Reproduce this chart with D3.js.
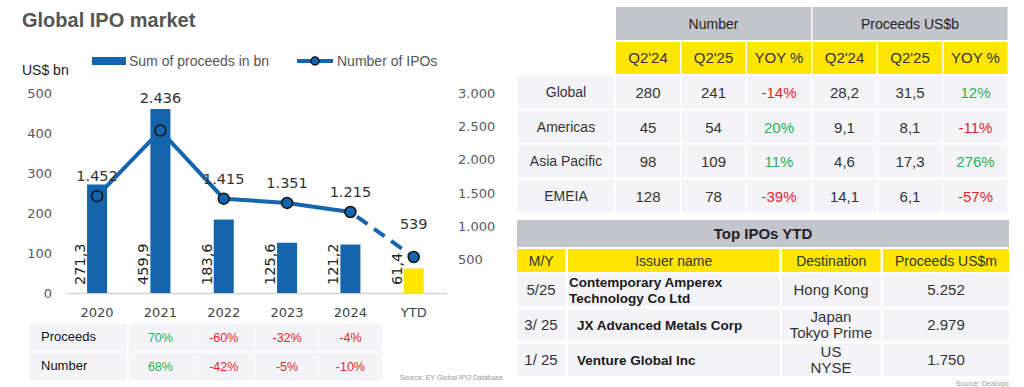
<!DOCTYPE html>
<html>
<head>
<meta charset="utf-8">
<script src="https://cdn.jsdelivr.net/npm/d3@7"></script>
<style>
    body { margin: 0; background: #fff; }
    svg { display: block; }
</style>
</head>
<body>
<div id="chart"></div>
<script>
// chart data
const years = ['2020', '2021', '2022', '2023', '2024', 'YTD'];
const proceeds = [271.3, 459.9, 183.6, 125.6, 121.2, 61.4];
const ipoCount = [1452, 2436, 1415, 1351, 1215, 539];
const leftTicks = [0, 100, 200, 300, 400, 500];
const rightTicks = [500, 1000, 1500, 2000, 2500, 3000];

// yoy table under the chart
const yoyYears = ['2021', '2022', '2023', '2024'];
const yoyProceeds = [70, -60, -32, -4];
const yoyNumber = [68, -42, -5, -10];

// regional table
const regions = ['Global', 'Americas', 'Asia Pacific', 'EMEIA'];
const quarterCols = ["Q2'24", "Q2'25", 'YOY %'];
const numQ224 = [280, 45, 98, 128];
const numQ225 = [241, 54, 109, 78];
const numYoy = [-14, 20, 11, -39];
const procQ224 = [28.2, 9.1, 4.6, 14.1];
const procQ225 = [31.5, 8.1, 17.3, 6.1];
const procYoy = [12, -11, 276, -57];

// top IPOs
const topCols = ['M/Y', 'Issuer name', 'Destination', 'Proceeds US$m'];
const topDates = ['5/25', '3/ 25', '1/ 25'];
const topIssuers = [['Contemporary Amperex', 'Technology Co Ltd'], ['JX Advanced Metals Corp'], ['Venture Global Inc']];
const topDest = [['Hong Kong'], ['Japan', 'Tokyo Prime'], ['US', 'NYSE']];
const topProceeds = [5252, 2979, 1750];

const BLUE = '#1565ac', YELLOW = '#ffe600', GREY = '#c4c4cd', CELL = '#f4f4f8';
const GREEN = '#27b257', RED = '#e3262b';
const TXT = "'Liberation Sans', Arial, sans-serif";
const NUM = "'DejaVu Sans', Verdana, sans-serif";

const loc = d3.formatLocale({ decimal: ',', thousands: '.', grouping: [3], currency: ['', ''] });
const fmtInt = loc.format(',d');
const fmt1 = loc.format(',.1f');
const pct = v => v + '%';

const width = 1024, height = 387;
const svg = d3.select('#chart').append('svg')
    .attr('width', width)
    .attr('height', height);

// ---------- left: combo chart ----------
svg.append('text')
    .attr('x', 22).attr('y', 27)
    .attr('font-family', TXT).attr('font-weight', 'bold')
    .attr('font-size', 20).attr('fill', '#555')
    .text('Global IPO market');

svg.append('text')
    .attr('x', 22).attr('y', 75)
    .attr('font-family', TXT).attr('font-size', 14).attr('fill', '#222')
    .text('US$ bn');

// legend
const legend = svg.append('g').attr('font-family', TXT).attr('font-size', 14).attr('fill', '#555');
legend.append('rect').attr('x', 92).attr('y', 57).attr('width', 34).attr('height', 8).attr('fill', BLUE);
legend.append('text').attr('x', 129).attr('y', 66).text('Sum of proceeds in bn');
legend.append('line').attr('x1', 297).attr('x2', 333).attr('y1', 61).attr('y2', 61)
    .attr('stroke', BLUE).attr('stroke-width', 4);
legend.append('circle').attr('cx', 315).attr('cy', 61).attr('r', 4)
    .attr('fill', BLUE).attr('stroke', '#111').attr('stroke-width', 1.5);
legend.append('text').attr('x', 337).attr('y', 66).text('Number of IPOs');

const x = d3.scaleBand()
    .domain(years)
    .range([65.4, 445.4])
    .paddingInner(0.684)
    .paddingOuter(0.342);
const cx = d => x(d) + x.bandwidth() / 2;

const yL = d3.scaleLinear().domain([0, 500]).range([293, 93]);
const yR = d3.scaleLinear().domain([0, 3000]).range([293, 93]);

const leftAxis = svg.append('g')
    .attr('transform', 'translate(52,0)')
    .call(d3.axisLeft(yL).tickValues(leftTicks).tickSize(0).tickPadding(0));
const rightAxis = svg.append('g')
    .attr('transform', 'translate(458,0)')
    .call(d3.axisRight(yR).tickValues(rightTicks).tickSize(0).tickPadding(0)
        .tickFormat(fmtInt));
[leftAxis, rightAxis].forEach(a => {
    a.select('.domain').remove();
    a.selectAll('text').attr('font-family', NUM).attr('font-size', 13).attr('fill', '#595959');
});

// baseline
svg.append('line')
    .attr('x1', 67).attr('x2', 447).attr('y1', 293.5).attr('y2', 293.5)
    .attr('stroke', '#d4d4d4').attr('stroke-width', 1.5);

// year labels
svg.append('g').selectAll('text')
    .data(years)
    .enter().append('text')
    .attr('x', d => cx(d)).attr('y', 317)
    .attr('text-anchor', 'middle')
    .attr('font-family', NUM).attr('font-size', 13).attr('fill', '#444')
    .text(d => d);

// bars
svg.append('g').selectAll('rect')
    .data(proceeds)
    .enter().append('rect')
    .attr('x', (d, i) => x(years[i]))
    .attr('y', d => yL(d))
    .attr('width', x.bandwidth())
    .attr('height', d => yL(0) - yL(d))
    .attr('fill', (d, i) => i === years.length - 1 ? YELLOW : BLUE);

// rotated bar values
svg.append('g').selectAll('text')
    .data(proceeds)
    .enter().append('text')
    .attr('transform', (d, i) => `translate(${cx(years[i]) - 12},285) rotate(-90)`)
    .attr('font-family', NUM).attr('font-size', 14.5).attr('fill', '#222')
    .text(d => fmt1(d));

// line (solid part + dashed YTD part)
const pts = ipoCount.map((v, i) => [cx(years[i]), yR(v)]);
const line = d3.line();
const last = pts.length - 1;
svg.append('path')
    .attr('d', line(pts.slice(0, last)))
    .attr('fill', 'none').attr('stroke', BLUE).attr('stroke-width', 4)
    .attr('stroke-linejoin', 'round');
const a = pts[last - 1], b = pts[last];
const len = Math.hypot(b[0] - a[0], b[1] - a[1]);
const ux = (b[0] - a[0]) / len, uy = (b[1] - a[1]) / len;
svg.append('path')
    .attr('d', line([[a[0] + ux * 8, a[1] + uy * 8], [b[0] - ux * 6, b[1] - uy * 6]]))
    .attr('fill', 'none').attr('stroke', BLUE).attr('stroke-width', 4)
    .attr('stroke-dasharray', '13,8');

svg.append('g').selectAll('circle')
    .data(pts)
    .enter().append('circle')
    .attr('cx', d => d[0]).attr('cy', d => d[1]).attr('r', 5.5)
    .attr('fill', BLUE).attr('stroke', '#111').attr('stroke-width', 1.5);

// count labels; 2021 and YTD sit higher (bar / dashed line in the way)
const lift = i => (i === 1 || i === last) ? 28 : 15;
svg.append('g').selectAll('text')
    .data(ipoCount)
    .enter().append('text')
    .attr('x', (d, i) => cx(years[i]))
    .attr('y', (d, i) => yR(d) - lift(i))
    .attr('text-anchor', 'middle')
    .attr('font-family', NUM).attr('font-size', 14.5).attr('fill', '#333')
    .text(d => fmtInt(d));

// yoy table
const yoyRows = [['Proceeds', yoyProceeds], ['Number', yoyNumber]];
const yoy = svg.append('g');
yoyRows.forEach(([label, vals], r) => {
    const y0 = 324 + r * 29, h = 27.5;
    yoy.append('rect').attr('x', 29).attr('y', y0)
        .attr('width', cx(yoyYears[0]) - 31.5 - 2 - 29).attr('height', h).attr('fill', CELL);
    yoy.append('text').attr('x', 41).attr('y', y0 + 17)
        .attr('font-family', TXT).attr('font-size', 13).attr('fill', '#111')
        .text(label);
    vals.forEach((v, i) => {
        const c = cx(yoyYears[i]);
        yoy.append('rect').attr('x', c - 31.5).attr('y', y0).attr('width', 63).attr('height', h).attr('fill', CELL);
        yoy.append('text').attr('x', c).attr('y', y0 + 18)
            .attr('text-anchor', 'middle')
            .attr('font-family', TXT).attr('font-size', 12.5)
            .attr('fill', v < 0 ? RED : GREEN)
            .text(pct(v));
    });
});
svg.append('text')
    .attr('x', 503).attr('y', 380).attr('text-anchor', 'end')
    .attr('font-family', TXT).attr('font-size', 7).attr('fill', '#999')
    .text('Source: EY Global IPO Database');

// ---------- right top: regional table ----------
const rt = svg.append('g').attr('font-family', TXT);
const colX = i => 616 + i * 65.5;
const colW = 64;

[['Number', 0], ['Proceeds US$b', 3]].forEach(([t, c]) => {
    const x0 = colX(c), w = colX(c + 2) + colW - x0;
    rt.append('rect').attr('x', x0).attr('y', 7).attr('width', w).attr('height', 33).attr('fill', GREY);
    rt.append('text').attr('x', x0 + w / 2).attr('y', 28.5).attr('text-anchor', 'middle')
        .attr('font-size', 14).attr('fill', '#222').text(t);
});
quarterCols.concat(quarterCols).forEach((t, i) => {
    rt.append('rect').attr('x', colX(i)).attr('y', 42).attr('width', colW).attr('height', 32).attr('fill', YELLOW);
    rt.append('text').attr('x', colX(i) + colW / 2).attr('y', 63).attr('text-anchor', 'middle')
        .attr('font-size', 15).attr('fill', '#333').text(t);
});
regions.forEach((reg, r) => {
    const y0 = 76 + r * 34.6, h = 32;
    rt.append('rect').attr('x', 518).attr('y', y0).attr('width', 96).attr('height', h).attr('fill', CELL);
    rt.append('text').attr('x', 566).attr('y', y0 + 21).attr('text-anchor', 'middle')
        .attr('font-size', 14).attr('fill', '#333').text(reg);
    const vals = [
        [fmtInt(numQ224[r]), null], [fmtInt(numQ225[r]), null], [pct(numYoy[r]), numYoy[r]],
        [fmt1(procQ224[r]), null], [fmt1(procQ225[r]), null], [pct(procYoy[r]), procYoy[r]]
    ];
    vals.forEach(([t, s], i) => {
        rt.append('rect').attr('x', colX(i)).attr('y', y0).attr('width', colW).attr('height', h).attr('fill', CELL);
        rt.append('text').attr('x', colX(i) + colW / 2).attr('y', y0 + 22).attr('text-anchor', 'middle')
            .attr('font-size', 15)
            .attr('fill', s === null ? '#333' : (s < 0 ? RED : GREEN))
            .text(t);
    });
});

// ---------- right bottom: top IPOs ----------
const tp = svg.append('g').attr('font-family', TXT);
const topX = [517, 568, 782, 883, 1009];
tp.append('rect').attr('x', 517).attr('y', 220).attr('width', 492).attr('height', 27).attr('fill', GREY);
tp.append('text').attr('x', 763).attr('y', 239).attr('text-anchor', 'middle')
    .attr('font-size', 15).attr('font-weight', 'bold').attr('fill', '#222').text('Top IPOs YTD');
topCols.forEach((t, i) => {
    const w = topX[i + 1] - topX[i] - (i < 3 ? 2.5 : 0);
    tp.append('rect').attr('x', topX[i]).attr('y', 249).attr('width', w).attr('height', 23).attr('fill', YELLOW);
    tp.append('text').attr('x', topX[i] + w / 2).attr('y', 266).attr('text-anchor', 'middle')
        .attr('font-size', 14).attr('fill', '#333').text(t);
});

const lines = (g, arr, xPos, mid, anchor, attrs) => {
    arr.forEach((t, k) => {
        const yy = arr.length === 1 ? mid + 5 : mid - 3 + k * 16;
        const el = g.append('text').attr('x', xPos).attr('y', yy).attr('text-anchor', anchor).text(t);
        Object.entries(attrs).forEach(([kk, vv]) => el.attr(kk, vv));
    });
};

topDates.forEach((d, r) => {
    const y0 = 274 + r * 35, h = 32, mid = y0 + h / 2;
    topX.slice(0, 4).forEach((x0, i) => {
        const w = topX[i + 1] - x0 - (i < 3 ? 2.5 : 0);
        tp.append('rect').attr('x', x0).attr('y', y0).attr('width', w).attr('height', h).attr('fill', CELL);
    });
    const plain = { 'font-size': 15, fill: '#333' };
    lines(tp, [d], 541, mid, 'middle', plain);
    lines(tp, topIssuers[r], r === 0 ? 569 : 577, mid, 'start',
        { 'font-size': 13.5, 'font-weight': 'bold', fill: '#1a1a1a' });
    lines(tp, topDest[r], 831, mid, 'middle', plain);
    lines(tp, [fmtInt(topProceeds[r])], 946, mid, 'middle', plain);
});
svg.append('text')
    .attr('x', 1009).attr('y', 386).attr('text-anchor', 'end')
    .attr('font-family', TXT).attr('font-size', 7).attr('fill', '#999')
    .text('Source: Dealogic');
</script>
</body>
</html>
